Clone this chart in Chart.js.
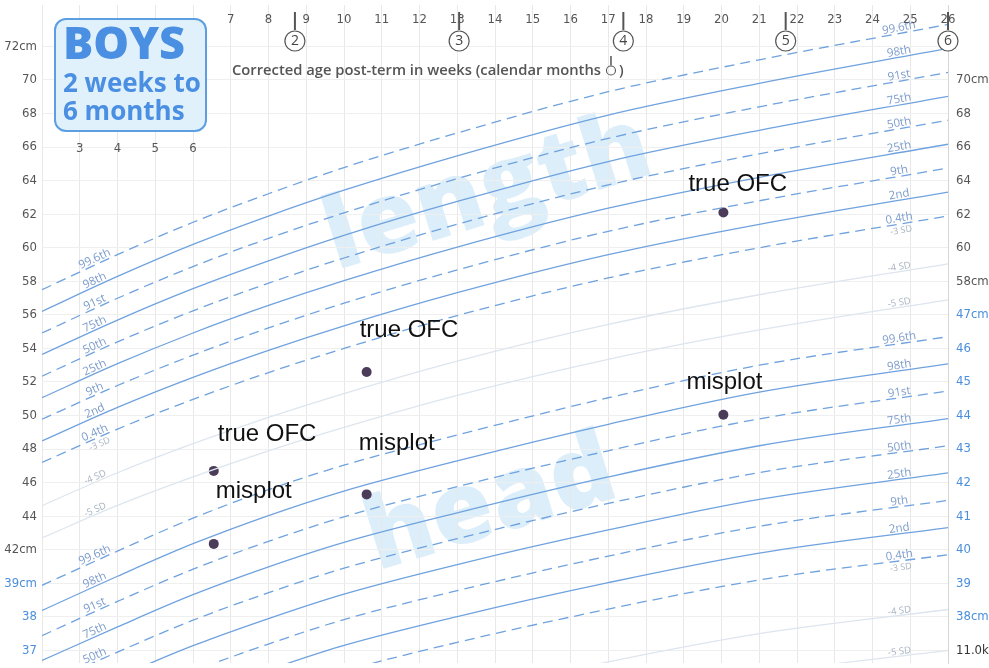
<!DOCTYPE html>
<html>
<head>
<meta charset="utf-8">
<script src="https://cdn.jsdelivr.net/npm/chart.js@4.4.1/dist/chart.umd.min.js"></script>
<style>
html,body{margin:0;padding:0;background:#fff;}
#wrap{position:relative;width:989px;height:668px;overflow:hidden;background:#fff;}
#c{position:absolute;left:0;top:0;z-index:1;}
.wm{position:absolute;z-index:0;color:#dbeefa;font-family:'Open Sans',sans-serif;font-weight:800;font-size:100px;line-height:1;white-space:nowrap;transform:translate(-50%,-50%) rotate(-17deg);}
#boys{position:absolute;z-index:2;left:54px;top:18px;width:153px;height:114px;box-sizing:border-box;border:2px solid #5b9fe2;border-radius:12px;background:#e1f1fb;}
#boys div{position:absolute;left:7px;color:#4a8fe2;font-family:'Open Sans',sans-serif;font-weight:700;white-space:nowrap;line-height:1;}
</style>
</head>
<body>
<div id="wrap">
  <div class="wm" style="left:485px;top:184px;">length</div>
  <div class="wm" style="left:488px;top:496px;">head</div>
  <canvas id="c" width="989" height="668"></canvas>
  <div id="boys">
    <div style="top:-1px;font-size:45px;font-weight:800;">BOYS</div>
    <div style="top:49px;font-size:26px;">2 weeks to</div>
    <div style="top:77px;font-size:26px;">6 months</div>
  </div>
</div>
<script>
// ---------- data ----------
const weeks = [2, 4, 6, 8, 10, 13, 17, 21, 26];

const len996 = [57.50, 59.59, 61.52, 63.22, 64.78, 66.84, 69.30, 71.20, 73.31];
const len98  = [56.21, 58.29, 60.20, 61.89, 63.43, 65.48, 67.91, 69.80, 71.88];
const len91  = [54.92, 56.99, 58.88, 60.56, 62.08, 64.12, 66.52, 68.40, 70.45];
const len75  = [53.64, 55.69, 57.56, 59.22, 60.74, 62.76, 65.14, 67.00, 69.03];
const len50  = [52.35, 54.39, 56.24, 57.89, 59.39, 61.40, 63.75, 65.60, 67.60];
const len25  = [51.06, 53.09, 54.92, 56.56, 58.04, 60.04, 62.36, 64.20, 66.17];
const len9   = [49.78, 51.79, 53.60, 55.22, 56.70, 58.68, 60.98, 62.80, 64.75];
const len2   = [48.49, 50.49, 52.28, 53.89, 55.35, 57.32, 59.59, 61.40, 63.32];
const len04  = [47.20, 49.19, 50.96, 52.56, 54.00, 55.96, 58.20, 60.00, 61.89];
const lenM4  = [44.63, 46.59, 48.32, 49.89, 51.31, 53.24, 55.43, 57.20, 59.04];
const lenM5  = [42.70, 44.64, 46.34, 47.89, 49.29, 51.20, 53.35, 55.10, 56.90];

const head996 = [38.94, 39.96, 40.94, 41.79, 42.52, 43.42, 44.53, 45.50, 46.35];
const head98  = [38.19, 39.21, 40.18, 41.02, 41.75, 42.65, 43.74, 44.70, 45.54];
const head91  = [37.44, 38.46, 39.42, 40.25, 40.98, 41.88, 42.95, 43.90, 44.73];
const head75  = [36.70, 37.70, 38.66, 39.49, 40.22, 41.10, 42.17, 43.10, 43.91];
const head50  = [35.95, 36.95, 37.90, 38.72, 39.45, 40.33, 41.38, 42.30, 43.10];
const head25  = [35.20, 36.20, 37.14, 37.95, 38.68, 39.56, 40.59, 41.50, 42.29];
const head9   = [34.46, 35.44, 36.38, 37.19, 37.92, 38.78, 39.81, 40.70, 41.47];
const head2   = [33.71, 34.69, 35.62, 36.42, 37.15, 38.01, 39.02, 39.90, 40.66];
const head04  = [32.96, 33.94, 34.86, 35.65, 36.38, 37.24, 38.23, 39.10, 39.85];
const headM4  = [31.47, 32.43, 33.34, 34.12, 34.85, 35.69, 36.66, 37.50, 38.22];
const headM5  = [30.35, 31.30, 32.20, 32.97, 33.70, 34.53, 35.48, 36.30, 37.00];

const centileNames = ['99.6th', '98th', '91st', '75th', '50th', '25th', '9th', '2nd', '0.4th'];
const sdNames = ['-4 SD', '-5 SD'];
const sdBelowLowest = '-3 SD';

// measurements (OFC in cm, age in weeks)
const ofcWeeks = [6.55, 10.6, 20.05];
const ofcCm    = [42.35, 45.3, 50.05];
const trueLabel = 'true OFC';
const misLabel  = 'misplot';

// axis text
const topWeekTicks = [7, 8, 9, 10, 11, 12, 13, 14, 15, 16, 17, 18, 19, 20, 21, 22, 23, 24, 25, 26];
const lowWeekTicks = [3, 4, 5, 6];
const monthNums  = [2, 3, 4, 5, 6];
const monthWeeks = [8.7, 13.05, 17.4, 21.7, 26.0];
const xTitle = 'Corrected age post-term in weeks (calendar months';

const leftLenTicks   = [72, 70, 68, 66, 64, 62, 60, 58, 56, 54, 52, 50, 48, 46, 44, 42];
const leftLenLabels  = ['72cm', '70', '68', '66', '64', '62', '60', '58', '56', '54', '52', '50', '48', '46', '44', '42cm'];
const leftHeadTicks  = [39, 38, 37];
const leftHeadLabels = ['39cm', '38', '37'];
const rightLenTicks  = [70, 68, 66, 64, 62, 60, 58];
const rightLenLabels = ['70cm', '68', '66', '64', '62', '60', '58cm'];
const rightHeadTicks = [47, 46, 45, 44, 43, 42, 41, 40, 39, 38];
const rightHeadLabels = ['47cm', '46', '45', '44', '43', '42', '41', '40', '39', '38cm'];
const weightTopLabel = '11.0kg';
const weightTopAtHead = 37;

// ---------- helpers ----------
const headToLen = h => 2 * h - 38;
const lenToHead = l => (l + 38) / 2;
const LEN_MIN = 35.25, LEN_MAX = 74.47;

const BLUE = '#6fa2de';
const SDCOL = '#dde5ee';
const GREY = '#555';
const HEADBLUE = '#4a8fdc';
const NARROW = "'Liberation Sans Narrow','DejaVu Sans Condensed','Roboto Condensed',Roboto,sans-serif";

const pts = arr => weeks.map((w, i) => ({x: w, y: arr[i]}));

function centileSet(arr, idx, axis) {
  const dashed = idx % 2 === 0;
  return {
    data: pts(arr), yAxisID: axis, borderColor: BLUE, borderWidth: 1.3,
    borderDash: dashed ? [10, 6] : [], pointRadius: 0, fill: false,
    cubicInterpolationMode: 'monotone', tag: centileNames[idx],
    subTag: idx === 8 ? sdBelowLowest : null, kind: 'c'
  };
}
function sdSet(arr, idx, axis) {
  return {
    data: pts(arr), yAxisID: axis, borderColor: SDCOL, borderWidth: 1.3,
    pointRadius: 0, fill: false, cubicInterpolationMode: 'monotone',
    tag: sdNames[idx], kind: 'sd'
  };
}

const lenSets = [len996, len98, len91, len75, len50, len25, len9, len2, len04];
const headSets = [head996, head98, head91, head75, head50, head25, head9, head2, head04];

const datasets = [];
[lenM4, lenM5].forEach((a, i) => datasets.push(sdSet(a, i, 'yLen')));
[headM4, headM5].forEach((a, i) => datasets.push(sdSet(a, i, 'yHead')));
lenSets.forEach((a, i) => datasets.push(centileSet(a, i, 'yLen')));
headSets.forEach((a, i) => datasets.push(centileSet(a, i, 'yHead')));

datasets.push({
  type: 'scatter', data: ofcWeeks.map((w, i) => ({x: w, y: ofcCm[i]})), yAxisID: 'yHead',
  showLine: false, pointRadius: 5, pointBackgroundColor: '#4b3c5a', pointBorderColor: '#4b3c5a',
  pointBorderWidth: 0, ann: trueLabel, annOff: [[4, -37], [-7, -42], [-35, -28]]
});
datasets.push({
  type: 'scatter', data: ofcWeeks.map((w, i) => ({x: w, y: ofcCm[i]})), yAxisID: 'yLen',
  showLine: false, pointRadius: 5, pointBackgroundColor: '#4b3c5a', pointBorderColor: '#4b3c5a',
  pointBorderWidth: 0, ann: misLabel, annOff: [[2, -53], [-8, -51], [-37, -32]]
});

const leftVals = leftLenTicks.concat(leftHeadTicks.map(headToLen));
const leftText = leftLenLabels.concat(leftHeadLabels);
const rightVals = rightLenTicks.map(lenToHead).concat(rightHeadTicks, [weightTopAtHead]);
const rightText = rightLenLabels.concat(rightHeadLabels, [weightTopLabel]);
const rightCol = rightLenLabels.map(() => GREY).concat(rightHeadLabels.map(() => HEADBLUE), ['#333']);
const leftCol = leftLenLabels.map(() => GREY).concat(leftHeadLabels.map(() => HEADBLUE));

function interp(data, w) {
  for (let i = 0; i < data.length - 1; i++) {
    if (w >= data[i].x && w <= data[i + 1].x) {
      const t = (w - data[i].x) / (data[i + 1].x - data[i].x);
      return data[i].y + t * (data[i + 1].y - data[i].y);
    }
  }
  return null;
}

const decor = {
  id: 'decor',
  afterDatasetsDraw(chart) {
    const ctx = chart.ctx, xs = chart.scales.x;
    chart.data.datasets.forEach(ds => {
      if (!ds.tag) return;
      const ys = chart.scales[ds.yAxisID];
      [3.46, 24.73].forEach(w => {
        const y0 = interp(ds.data, w - 0.4), y1 = interp(ds.data, w + 0.4), yc = interp(ds.data, w);
        const px0 = xs.getPixelForValue(w - 0.4), px1 = xs.getPixelForValue(w + 0.4);
        const py0 = ys.getPixelForValue(y0), py1 = ys.getPixelForValue(y1);
        const ang = Math.atan2(py1 - py0, px1 - px0);
        const px = xs.getPixelForValue(w), py = ys.getPixelForValue(yc);
        ctx.save();
        ctx.translate(px, py);
        ctx.rotate(ang);
        ctx.textAlign = 'center';
        ctx.textBaseline = 'bottom';
        ctx.fillStyle = ds.kind === 'sd' ? '#a9b4c0' : '#7d9ccb';
        ctx.font = (ds.kind === 'sd' ? '9.5px ' : '11.5px ') + "'Open Sans',sans-serif";
        ctx.fillText(ds.tag, 0, 0);
        if (ds.subTag) {
          ctx.fillStyle = '#a9b4c0';
          ctx.font = "9px 'Open Sans',sans-serif";
          ctx.textBaseline = 'top';
          ctx.fillText(ds.subTag, 0, 2);
        }
        ctx.restore();
      });
    });
    chart.data.datasets.forEach((ds, di) => {
      if (!ds.ann) return;
      const meta = chart.getDatasetMeta(di);
      meta.data.forEach((el, i) => {
        const o = ds.annOff[i];
        ctx.save();
        ctx.font = "24px 'Liberation Sans',Arial,sans-serif";
        ctx.fillStyle = '#111';
        ctx.textAlign = 'left';
        ctx.textBaseline = 'middle';
        ctx.fillText(ds.ann, el.x + o[0], el.y + o[1]);
        ctx.restore();
      });
    });
  },
  afterDraw(chart) {
    const ctx = chart.ctx, xs = chart.scales.x;
    ctx.save();
    ctx.fillStyle = '#555';
    ctx.font = '13px ' + NARROW;
    ctx.textAlign = 'center';
    ctx.textBaseline = 'middle';
    topWeekTicks.forEach(w => ctx.fillText(String(w), xs.getPixelForValue(w), 20));
    lowWeekTicks.forEach(w => ctx.fillText(String(w), xs.getPixelForValue(w), 149));
    monthNums.forEach((m, i) => {
      const px = xs.getPixelForValue(monthWeeks[i]);
      ctx.strokeStyle = '#555';
      ctx.lineWidth = 2;
      ctx.beginPath(); ctx.moveTo(px, 12); ctx.lineTo(px, 30); ctx.stroke();
      ctx.lineWidth = 1.2;
      ctx.fillStyle = '#fff';
      ctx.beginPath(); ctx.arc(px, 41, 10, 0, Math.PI * 2); ctx.fill(); ctx.stroke();
      ctx.fillStyle = '#444';
      ctx.font = "14px 'Open Sans',sans-serif";
      ctx.fillText(String(m), px, 41.5);
    });
    // axis title, sized to its span in the reference
    let fs = 17;
    ctx.textAlign = 'left';
    ctx.textBaseline = 'alphabetic';
    do { fs -= 0.25; ctx.font = "600 " + fs + "px 'Open Sans',sans-serif"; }
    while (ctx.measureText(xTitle).width > 373 && fs > 10);
    ctx.fillStyle = '#555';
    const tx = 232, ty = 75;
    ctx.fillText(xTitle, tx, ty);
    const tw = ctx.measureText(xTitle).width;
    const sx = tx + tw + 10;
    ctx.strokeStyle = '#555'; ctx.lineWidth = 1.5;
    ctx.beginPath(); ctx.moveTo(sx, 56); ctx.lineTo(sx, 65.5); ctx.stroke();
    ctx.lineWidth = 1.1;
    ctx.beginPath(); ctx.arc(sx, 70.5, 4.5, 0, Math.PI * 2); ctx.stroke();
    ctx.fillText(')', sx + 8, ty);
    ctx.restore();
  }
};

new Chart(document.getElementById('c'), {
  type: 'line',
  data: {datasets},
  options: {
    responsive: false,
    animation: false,
    events: [],
    layout: {padding: 0},
    plugins: {legend: {display: false}, tooltip: {enabled: false}},
    scales: {
      x: {
        type: 'linear', min: 2, max: 26, position: 'bottom',
        ticks: {display: false, stepSize: 1},
        grid: {color: '#e8e8e8', drawTicks: false, lineWidth: 1},
        border: {display: false},
        afterFit: s => { s.height = 0; s.paddingLeft = 0; s.paddingRight = 0; }
      },
      yLen: {
        type: 'linear', position: 'left', min: LEN_MIN, max: LEN_MAX,
        afterBuildTicks: s => { s.ticks = leftVals.map(v => ({value: v})); },
        ticks: {
          autoSkip: false, padding: 5,
          callback: (v, i) => leftText[i],
          color: c => leftCol[c.index] || GREY,
          font: {family: NARROW, size: 13}
        },
        grid: {color: '#efefef', drawTicks: false},
        border: {display: false},
        afterFit: s => { s.width = 42; s.paddingTop = 0; s.paddingBottom = 0; }
      },
      yHead: {
        type: 'linear', position: 'right', min: lenToHead(LEN_MIN), max: lenToHead(LEN_MAX),
        afterBuildTicks: s => { s.ticks = rightVals.map(v => ({value: v})); },
        ticks: {
          autoSkip: false, padding: 8,
          callback: (v, i) => rightText[i],
          color: c => rightCol[c.index] || GREY,
          font: {family: NARROW, size: 13}
        },
        grid: {display: false, drawTicks: false},
        border: {display: true, color: '#d6d6d6'},
        afterFit: s => { s.width = 41; s.paddingTop = 0; s.paddingBottom = 0; }
      }
    }
  },
  plugins: [decor]
});
</script>
</body>
</html>
